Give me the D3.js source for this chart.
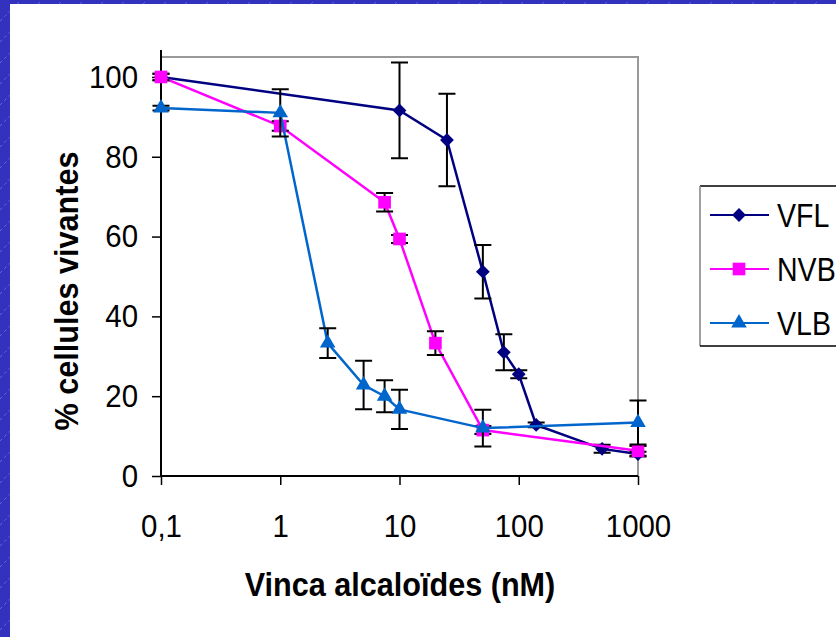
<!DOCTYPE html>
<html>
<head>
<meta charset="utf-8">
<script src="https://cdn.jsdelivr.net/npm/d3@7"></script>
<style>
  body { margin: 0; background: #fff; }
  svg { display: block; }
  text { font-family: "Liberation Sans", Arial, sans-serif; fill: #000; }
</style>
</head>
<body>
<svg id="chart" width="836" height="637"></svg>
<script>
(function() {

  // data
  var seriesNames = ["VFL", "NVB", "VLB"];

  var vflDose  = [0.1, 10, 25, 50, 75, 100, 140, 500, 1000],
      vflValue = [100, 91.6, 84.2, 51.2, 31.0, 25.5, 12.8, 6.8, 5.5],
      vflError = [0.8, 12, 11.6, 6.7, 4.5, 1, 0.6, 1, 0.6];

  var nvbDose  = [0.1, 1, 7.5, 10, 20, 50, 1000],
      nvbValue = [100, 87.7, 68.6, 59.4, 33.3, 11.5, 6.3],
      nvbError = [0.8, 1.2, 2.3, 1, 3, 1, 1.2];

  var vlbDose  = [0.1, 1, 2.5, 5, 7.5, 10, 50, 1000],
      vlbValue = [92.2, 91, 33.3, 22.8, 20, 16.7, 12, 13.4],
      vlbError = [0.6, 5.9, 3.7, 6.1, 4, 4.9, 4.6, 5.5];

  var xTicks = [0.1, 1, 10, 100, 1000],
      xTickLabels = ["0,1", "1", "10", "100", "1000"],
      yTicks = [0, 20, 40, 60, 80, 100];

  var colors = ["#000080", "#ff00ff", "#0066cc"];

  var svg = d3.select("#chart");

  // slide background
  var defs = svg.append("defs");
  var pat = defs.append("pattern")
      .attr("id", "hatch")
      .attr("patternUnits", "userSpaceOnUse")
      .attr("width", 21)
      .attr("height", 21);
  pat.append("rect")
      .attr("width", 21)
      .attr("height", 21)
      .attr("fill", "#3232bf");
  pat.append("line")
      .attr("x1", 0).attr("y1", 21)
      .attr("x2", 21).attr("y2", 0)
      .attr("stroke", "#7a7ae0")
      .attr("stroke-width", 0.7)
      .attr("stroke-dasharray", "3,3");

  svg.append("rect")
      .attr("width", 836)
      .attr("height", 637)
      .attr("fill", "url(#hatch)");
  svg.append("rect")
      .attr("x", 10)
      .attr("y", 4)
      .attr("width", 826)
      .attr("height", 633)
      .attr("fill", "#fff");

  var x = d3.scaleLog()
      .domain([0.1, 1000])
      .range([161, 638]);

  var y = d3.scaleLinear()
      .domain([0, 105])
      .range([476, 57]);

  // plot area frame (gray top and right)
  svg.append("path")
      .attr("d", "M" + x(0.1) + "," + y(105) + "H" + x(1000) + "V" + y(0))
      .attr("fill", "none")
      .attr("stroke", "#999")
      .attr("stroke-width", 2);

  var yAxis = d3.axisLeft(y)
      .tickValues(yTicks)
      .tickSize(9);

  var yG = svg.append("g")
      .attr("transform", "translate(" + x(0.1) + ",0)")
      .call(yAxis);
  yG.select(".domain").attr("d", "M0,50V" + y(0)).attr("stroke-width", 2);
  yG.selectAll(".tick line").attr("stroke-width", 1.5);
  yG.selectAll(".tick text")
      .attr("x", 0)
      .attr("transform", "translate(-23,0) scale(0.92,1)")
      .style("font-size", "32px")
      .attr("fill", "#000");

  var xAxis = d3.axisBottom(x)
      .tickValues(xTicks)
      .tickFormat((d, i) => xTickLabels[i])
      .tickSize(9);

  var xG = svg.append("g")
      .attr("transform", "translate(0," + y(0) + ")")
      .call(xAxis);
  xG.select(".domain").attr("d", "M" + x(0.1) + ",0H" + x(1000)).attr("stroke-width", 2);
  xG.selectAll(".tick line").attr("stroke-width", 1.5);
  xG.selectAll(".tick text")
      .attr("y", 0)
      .attr("transform", "translate(0,38) scale(0.92,1)")
      .style("font-size", "32px")
      .attr("fill", "#000");

  // titles
  svg.append("text")
      .attr("transform", "translate(78,291) rotate(-90) scale(0.9,1)")
      .attr("text-anchor", "middle")
      .style("font-size", "34px")
      .style("font-weight", "bold")
      .text("% cellules vivantes");

  svg.append("text")
      .attr("transform", "translate(400,596) scale(0.9,1)")
      .attr("text-anchor", "middle")
      .style("font-size", "34px")
      .style("font-weight", "bold")
      .text("Vinca alcaloïdes (nM)");

  // symbols
  var diamond = d3.symbol().type(d3.symbolSquare).size(95)();
  var square = d3.symbol().type(d3.symbolSquare).size(160)();
  var triangle = d3.symbol().type(d3.symbolTriangle).size(105)();
  var shapes = [
    { d: diamond, rot: 45 },
    { d: square, rot: 0 },
    { d: triangle, rot: 0 }
  ];

  var series = [
    { name: seriesNames[0], dose: vflDose, value: vflValue, error: vflError },
    { name: seriesNames[1], dose: nvbDose, value: nvbValue, error: nvbError },
    { name: seriesNames[2], dose: vlbDose, value: vlbValue, error: vlbError }
  ];

  var line = d3.line()
      .x(d => x(d.dose))
      .y(d => y(d.value));

  var capW = 8.5;

  series.forEach((s, k) => {
    var pts = s.dose.map((d, i) => ({ dose: d, value: s.value[i], error: s.error[i] }));
    var g = svg.append("g").attr("class", "series");

    g.append("path")
        .datum(pts)
        .attr("d", line)
        .attr("fill", "none")
        .attr("stroke", colors[k])
        .attr("stroke-width", 2.5);

    g.selectAll(".err")
        .data(pts)
      .enter().append("path")
        .attr("class", "err")
        .attr("d", d => {
          var cx = x(d.dose), t = y(d.value + d.error), b = y(d.value - d.error);
          return "M" + cx + "," + t + "V" + b +
                 "M" + (cx - capW) + "," + t + "H" + (cx + capW) +
                 "M" + (cx - capW) + "," + b + "H" + (cx + capW);
        })
        .attr("fill", "none")
        .attr("stroke", "#000")
        .attr("stroke-width", 2);

    g.selectAll(".mark")
        .data(pts)
      .enter().append("path")
        .attr("class", "mark")
        .attr("d", shapes[k].d)
        .attr("transform", d => "translate(" + x(d.dose) + "," + y(d.value) + ") rotate(" + shapes[k].rot + ")")
        .attr("fill", colors[k]);
  });

  // legend
  var legend = svg.append("g").attr("transform", "translate(700,186)");
  legend.append("line")
      .attr("x1", 0).attr("y1", 0).attr("x2", 140).attr("y2", 0)
      .attr("stroke", "#000").attr("stroke-width", 1.5);
  legend.append("line")
      .attr("x1", 0).attr("y1", 0).attr("x2", 0).attr("y2", 160)
      .attr("stroke", "#808080").attr("stroke-width", 1.5);
  legend.append("line")
      .attr("x1", 0).attr("y1", 160).attr("x2", 140).attr("y2", 160)
      .attr("stroke", "#000").attr("stroke-width", 1.5);

  var rowY = d3.scalePoint()
      .domain(seriesNames)
      .range([29, 137]);

  seriesNames.forEach((n, k) => {
    var r = legend.append("g").attr("transform", "translate(0," + rowY(n) + ")");
    r.append("line")
        .attr("x1", 10).attr("x2", 69)
        .attr("stroke", colors[k])
        .attr("stroke-width", 2);
    r.append("path")
        .attr("d", shapes[k].d)
        .attr("transform", "translate(39,0) rotate(" + shapes[k].rot + ")")
        .attr("fill", colors[k]);
    r.append("text")
        .attr("transform", "translate(77,12) scale(0.84,1)")
        .style("font-size", "34px")
        .text(n);
  });

})();
</script>
</body>
</html>
